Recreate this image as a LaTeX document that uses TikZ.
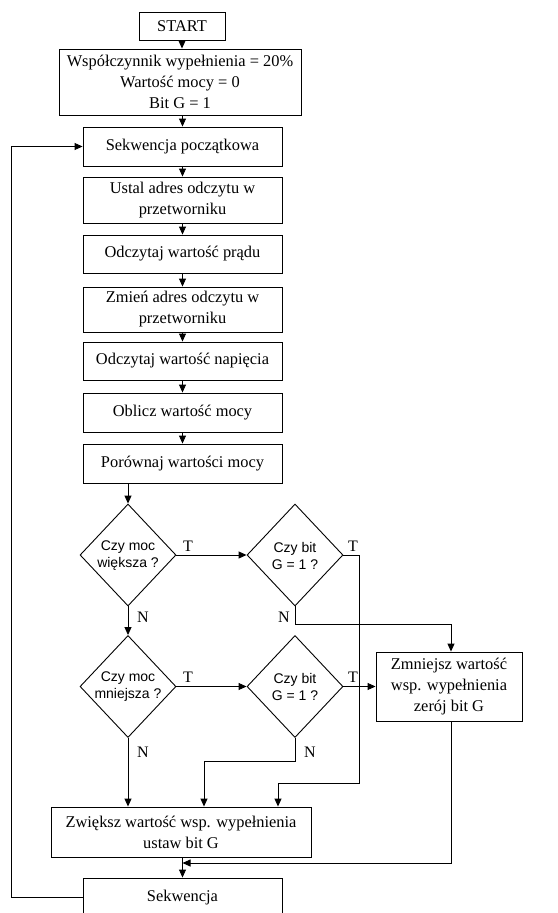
\documentclass[tikz,border=0pt]{standalone}
\usepackage{fontspec}
\setmainfont{Liberation Serif}
\setsansfont{Liberation Sans}
\usetikzlibrary{shapes.geometric,arrows.meta}
\begin{document}
\begin{tikzpicture}[x=1pt,y=-1pt,
  box/.style={draw, line width=0.9pt, minimum width=199pt, inner sep=0pt, align=center, font=\fontsize{16.4}{21}\selectfont},
  diam/.style={draw, diamond, line width=0.9pt, minimum width=96pt, minimum height=102pt, inner sep=0pt},
  dtext/.style={align=center, inner sep=0pt, font=\sffamily\fontsize{14}{17}\selectfont},
  lab/.style={inner sep=0pt, font=\fontsize{16}{18}\selectfont},
  arr/.style={-{Triangle[length=8pt,width=7pt]}, line width=0.9pt},
  ln/.style={line width=0.9pt}]
\clip (0,0) rectangle (557,913);
\fill[white] (0,0) rectangle (557,913);
% boxes
\node[box, minimum width=86pt, minimum height=28pt] (start) at (182,26) {START};
\node[box, minimum width=242pt, minimum height=66pt] (init) at (180,82) {Współczynnik wypełnienia = 20\%\\Wartość mocy = 0\\Bit G = 1};
\node[box, minimum height=39pt] (seq0) at (182.5,146.5) {Sekwencja początkowa};
\node[box, minimum height=46pt] (ustal) at (182.5,200) {Ustal adres odczytu w\\przetworniku};
\node[box, minimum height=38pt] (odczI) at (182.5,254) {Odczytaj wartość prądu};
\node[box, minimum height=45pt] (zmien) at (182.5,309.5) {Zmień adres odczytu w\\przetworniku};
\node[box, minimum height=38pt] (odczU) at (182.5,361) {Odczytaj wartość napięcia};
\node[box, minimum height=39pt] (oblicz) at (182.5,412.5) {Oblicz wartość mocy};
\node[box, minimum height=39pt] (porown) at (182.5,463.5) {Porównaj wartości mocy};
% diamonds
\node[diam] (d1) at (128,555) {};
\node[dtext] (d1t) at (128,555.5) {Czy moc\\większa ?};
\node[diam] (d2) at (295,555) {};
\node[dtext] (d2t) at (295,555.5) {Czy bit\\G = 1 ?};
\node[diam] (d3) at (128,686.5) {};
\node[dtext] (d3t) at (128,687) {Czy moc\\mniejsza ?};
\node[diam] (d4) at (295,686.5) {};
\node[dtext] (d4t) at (295,687) {Czy bit\\G = 1 ?};
\node[box, minimum width=146pt, minimum height=69pt] (zmn) at (449,686.5) {Zmniejsz wartość\\wsp. wypełnienia\\zerój bit G};
\node[box, minimum width=260pt, minimum height=50pt] (zwi) at (181,832) {Zwiększ wartość wsp. wypełnienia\\ustaw bit G};
\node[box, minimum height=40pt] (seqE) at (182.5,898) {Sekwencja};
% labels
\node[lab] (t1) at (188,546) {T};
\node[lab] (t2) at (353,546) {T};
\node[lab] (n1) at (143,617) {N};
\node[lab] (n2) at (284,617) {N};
\node[lab] (t3) at (188,677) {T};
\node[lab] (t4) at (353,677) {T};
\node[lab] (n3) at (143,752) {N};
\node[lab] (n4) at (310,752) {N};
% coordinates
\coordinate (c2a) at (359,555);
\coordinate (c2b) at (359,783);
\coordinate (c2c) at (278,783);
\coordinate (c2n) at (295,624);
\coordinate (c2m) at (451,624);
\coordinate (c4a) at (295,761);
\coordinate (c4b) at (204,761);
\coordinate (cza) at (451,863);
\coordinate (czb) at (182.5,863);
\coordinate (cfa) at (11,897);
\coordinate (cfb) at (11,146.5);
% connectors
\draw[arr] (start.south) -- (start.south |- init.north);
\draw[arr] (seq0.north |- init.south) -- (seq0.north);
\draw[arr] (seq0) -- (ustal);
\draw[arr] (ustal) -- (odczI);
\draw[arr] (odczI) -- (zmien);
\draw[arr] (zmien) -- (odczU);
\draw[arr] (odczU) -- (oblicz);
\draw[arr] (oblicz) -- (porown);
\draw[arr] (d1.north |- porown.south) -- (d1.north);
\draw[arr] (d1.east) -- (d2.west);
\draw[arr] (d2.east) -- (c2a) -- (c2b) -- (c2c) -- (c2c |- zwi.north);
\draw[arr] (d1.south) -- (d3.north);
\draw[arr] (d2.south) -- (c2n) -- (c2m) -- (c2m |- zmn.north);
\draw[arr] (d3.east) -- (d4.west);
\draw[arr] (d4.east) -- (zmn.west);
\draw[arr] (d3.south) -- (d3.south |- zwi.north);
\draw[arr] (d4.south) -- (c4a) -- (c4b) -- (c4b |- zwi.north);
\draw[arr] (cza |- zmn.south) -- (cza) -- (czb);
\draw[arr] (czb |- zwi.south) -- (czb |- seqE.north);
\draw[arr] (seqE.west |- cfa) -- (cfa) -- (cfb) -- (seq0.west);
\end{tikzpicture}
\end{document}
